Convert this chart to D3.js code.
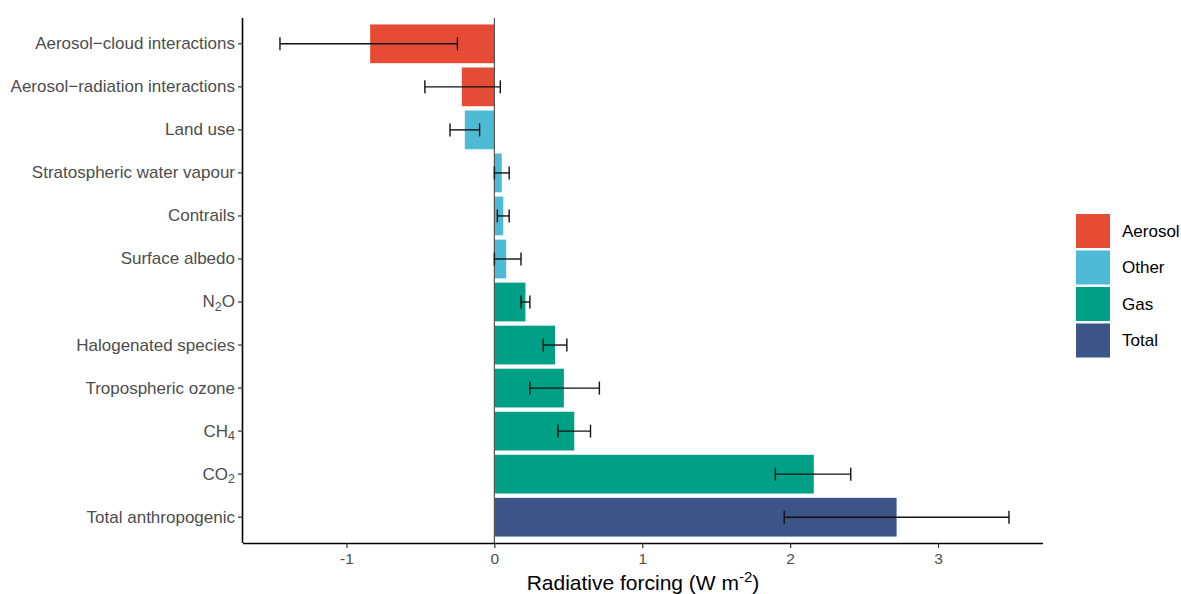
<!DOCTYPE html>
<html>
<head>
<meta charset="utf-8">
<script src="https://cdn.jsdelivr.net/npm/d3@7"></script>
<style>
  html, body { margin: 0; padding: 0; background: #fff; }
  svg { display: block; font-family: "Liberation Sans", Arial, Helvetica, sans-serif; }
</style>
</head>
<body>
<svg id="chart" width="1181" height="594"></svg>
<script>
// Effective radiative forcing by driver (W m-2), best estimate with 5–95% range
const categories = [
  "Aerosol\u2212cloud interactions",
  "Aerosol\u2212radiation interactions",
  "Land use",
  "Stratospheric water vapour",
  "Contrails",
  "Surface albedo",
  "N2O",
  "Halogenated species",
  "Tropospheric ozone",
  "CH4",
  "CO2",
  "Total anthropogenic"
];
const groups = ["Aerosol", "Aerosol", "Other", "Other", "Other", "Other",
                "Gas", "Gas", "Gas", "Gas", "Gas", "Total"];
const forcing = [-0.84, -0.22, -0.20, 0.05, 0.06, 0.08, 0.21, 0.41, 0.47, 0.54, 2.16, 2.72];
const lower   = [-1.45, -0.47, -0.30, 0.00, 0.02, 0.00, 0.18, 0.33, 0.24, 0.43, 1.90, 1.96];
const upper   = [-0.25,  0.04, -0.10, 0.10, 0.10, 0.18, 0.24, 0.49, 0.71, 0.65, 2.41, 3.48];
const legendGroups = ["Aerosol", "Other", "Gas", "Total"];
const groupColors  = ["#E64B35", "#4DBBD5", "#00A087", "#3C5488"];
const xTicks = [-1, 0, 1, 2, 3];

// chemical formulas with subscripts
const subscripts = { "N2O": ["N", "2", "O"], "CH4": ["CH", "4", ""], "CO2": ["CO", "2", ""] };

const rows = categories.map((c, i) => ({
  name: c, group: groups[i], value: forcing[i], lo: lower[i], hi: upper[i]
}));

const svg = d3.select("#chart");
const margin = { left: 243, right: 1043, top: 18, bottom: 543 };
const tickFont = 17;

const x = d3.scaleLinear().domain([-1.70, 3.71]).range([margin.left, margin.right]);
const y = d3.scaleBand().domain(categories)
  .range([margin.top, margin.bottom]).paddingInner(0.1).paddingOuter(0.15);
const color = d3.scaleOrdinal().domain(legendGroups).range(groupColors);

// bars
svg.append("g").selectAll("rect").data(rows).join("rect")
  .attr("x", d => x(Math.min(0, d.value)))
  .attr("width", d => Math.abs(x(d.value) - x(0)))
  .attr("y", d => y(d.name))
  .attr("height", y.bandwidth())
  .attr("fill", d => color(d.group));

// zero reference line
svg.append("line")
  .attr("x1", x(0)).attr("x2", x(0))
  .attr("y1", margin.top).attr("y2", margin.bottom)
  .attr("stroke", "#555").attr("stroke-width", 1.2);

// uncertainty ranges
const capH = 6.5;
const eb = svg.append("g").attr("stroke", "#111").attr("stroke-width", 1.4).attr("fill", "none");
rows.forEach(d => {
  const cy = y(d.name) + y.bandwidth() / 2;
  eb.append("line").attr("x1", x(d.lo)).attr("x2", x(d.hi)).attr("y1", cy).attr("y2", cy);
  eb.append("line").attr("x1", x(d.lo)).attr("x2", x(d.lo)).attr("y1", cy - capH).attr("y2", cy + capH);
  eb.append("line").attr("x1", x(d.hi)).attr("x2", x(d.hi)).attr("y1", cy - capH).attr("y2", cy + capH);
});

// x axis
const xAxis = svg.append("g")
  .attr("transform", `translate(0,${margin.bottom})`)
  .call(d3.axisBottom(x).tickValues(xTicks).tickSize(5).tickPadding(5).tickFormat(d => String(d)));
xAxis.select(".domain").attr("stroke", "#000").attr("stroke-width", 1.6)
  .attr("d", `M${margin.left},0.5H${margin.right}`);
xAxis.selectAll(".tick line").attr("stroke", "#333").attr("stroke-width", 1.2);
xAxis.selectAll(".tick text").attr("fill", "#4d4d4d").attr("font-size", 15.5)
  .attr("font-family", "Liberation Sans, Arial, sans-serif");

// y axis
const yAxis = svg.append("g")
  .attr("transform", `translate(${margin.left},0)`)
  .call(d3.axisLeft(y).tickSize(5).tickPadding(3));
yAxis.select(".domain").attr("stroke", "#000").attr("stroke-width", 1.6)
  .attr("d", `M-0.5,${margin.top}V${margin.bottom}`);
yAxis.selectAll(".tick line").attr("stroke", "#333").attr("stroke-width", 1.2);
yAxis.selectAll(".tick text")
  .attr("fill", "#4d4d4d").attr("font-size", tickFont)
  .attr("font-family", "Liberation Sans, Arial, sans-serif")
  .each(function(d) {
    const parts = subscripts[d];
    if (!parts) return;
    const t = d3.select(this).text(null);
    t.append("tspan").text(parts[0]);
    t.append("tspan").text(parts[1]).attr("font-size", 12.5).attr("dy", "0.3em");
    if (parts[2]) t.append("tspan").text(parts[2]).attr("dy", "-0.22em");
  });

// axis title
const title = svg.append("text")
  .attr("x", (margin.left + margin.right) / 2).attr("y", 590)
  .attr("text-anchor", "middle").attr("font-size", 21).attr("fill", "#000");
title.append("tspan").text("Radiative forcing (W m");
title.append("tspan").text("-2").attr("font-size", 15).attr("dy", "-0.55em");
title.append("tspan").text(")").attr("dy", "0.4em");

// legend
const leg = svg.append("g").attr("transform", "translate(1076,214)");
legendGroups.forEach((g, i) => {
  const row = leg.append("g").attr("transform", `translate(0,${i * 36.5})`);
  row.append("rect").attr("width", 34).attr("height", 34).attr("fill", color(g));
  row.append("text").attr("x", 46).attr("y", 17).attr("dy", "0.35em")
    .attr("font-size", tickFont).attr("fill", "#000").text(g);
});
</script>
</body>
</html>
